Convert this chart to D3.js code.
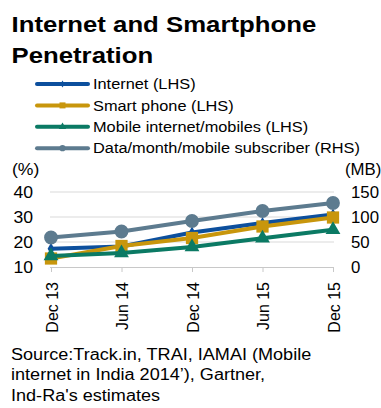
<!DOCTYPE html>
<html>
<head>
<meta charset="utf-8">
<script src="https://cdn.jsdelivr.net/npm/d3@7"></script>
<style>
  html, body { margin: 0; padding: 0; background: #fff; }
  svg { display: block; font-family: "Liberation Sans", Arial, sans-serif; }
</style>
</head>
<body>
<svg id="chart" width="381" height="408"></svg>
<script>
// Periods on the x axis
const periods = ["Dec 13", "Jun 14", "Dec 14", "Jun 15", "Dec 15"];

// Left-hand axis series (%)
const internet = [17.3, 18.2, 23.8, 27.6, 31.0];
const smartphone = [13.4, 18.4, 21.6, 26.2, 29.8];
const mobileInternet = [14.4, 15.6, 18.0, 21.5, 24.9];

// Right-hand axis series (MB)
const dataPerSub = [59, 71, 92, 112, 128];

// Tick labels
const leftTicks = [10, 20, 30, 40];
const rightTicks = [0, 50, 100, 150];

const seriesNames = [
  "Internet (LHS)",
  "Smart phone (LHS)",
  "Mobile internet/mobiles (LHS)",
  "Data/month/mobile subscriber (RHS)"
];

const colors = {
  internet: "#0c4f9d",
  smartphone: "#c8960c",
  mobile: "#0b7a64",
  data: "#5d7b8f"
};

const svg = d3.select("#chart");

// Stretch horizontal text sideways around its anchor point
function widen(sel, k) {
  sel.each(function () {
    const t = d3.select(this);
    const x = +t.attr("x") || 0;
    const y = +t.attr("y") || 0;
    t.attr("x", 0).attr("y", 0)
      .attr("transform", `translate(${x},${y}) scale(${k},1)`);
  });
  return sel;
}

// Title
const title = svg.append("g").selectAll("text")
  .data(["Internet and Smartphone", "Penetration"])
  .join("text")
  .attr("x", 11.5).attr("y", (d, i) => 32 + i * 30.5)
  .attr("font-size", 23).attr("font-weight", "bold").attr("fill", "#000")
  .text(d => d);
widen(title, 1.12);

// Scales
const x = d3.scalePoint().domain(periods).range([51, 333]);
const yL = d3.scaleLinear().domain([10, 40]).range([267, 192]);
const yR = d3.scaleLinear().domain([0, 150]).range([267, 192]);

// Gridlines
svg.append("g").selectAll("line")
  .data(leftTicks.filter(t => t !== 10))
  .join("line")
  .attr("x1", 50).attr("x2", 334)
  .attr("y1", d => yL(d)).attr("y2", d => yL(d))
  .attr("stroke", "#d9d9d9").attr("stroke-width", 1);

// Left axis labels
const leftAxis = svg.append("g")
  .attr("transform", "translate(33,0)")
  .call(d3.axisLeft(yL).tickValues(leftTicks).tickSize(0).tickPadding(0));
leftAxis.select(".domain").remove();
widen(leftAxis.selectAll("text")
  .attr("font-size", 16).attr("fill", "#000")
  .attr("font-family", "Liberation Sans, Arial, sans-serif"), 1.1);

// Right axis labels
const rightAxis = svg.append("g")
  .attr("transform", "translate(351,0)")
  .call(d3.axisRight(yR).tickValues(rightTicks).tickSize(0).tickPadding(0));
rightAxis.select(".domain").remove();
widen(rightAxis.selectAll("text")
  .attr("font-size", 16).attr("fill", "#000")
  .attr("font-family", "Liberation Sans, Arial, sans-serif"), 1.05);

// Unit labels
widen(svg.append("text").attr("x", 12).attr("y", 175)
  .attr("font-size", 16).attr("fill", "#000").text("(%)"), 1.1);
widen(svg.append("text").attr("x", 345).attr("y", 175)
  .attr("font-size", 16).attr("fill", "#000").text("(MB)"), 1.05);

// Bottom axis with category labels
const bottomAxis = svg.append("g")
  .attr("transform", `translate(0,${yL(10)})`)
  .call(d3.axisBottom(x).tickSize(5).tickSizeOuter(0).tickPadding(0));
bottomAxis.select(".domain")
  .attr("d", `M50,0.5H334`)
  .attr("stroke", "#c8c8c8");
bottomAxis.selectAll(".tick line").attr("stroke", "#c8c8c8");
bottomAxis.selectAll(".tick text")
  .attr("font-size", 16).attr("fill", "#000")
  .attr("font-family", "Liberation Sans, Arial, sans-serif")
  .attr("transform", "rotate(-90) scale(1,1.08)")
  .attr("text-anchor", "end")
  .attr("x", -15).attr("y", 0).attr("dy", "0.35em");

// Series definitions
const series = [
  { values: internet, y: yL, color: colors.internet, marker: "diamond" },
  { values: smartphone, y: yL, color: colors.smartphone, marker: "square" },
  { values: mobileInternet, y: yL, color: colors.mobile, marker: "triangle" },
  { values: dataPerSub, y: yR, color: colors.data, marker: "circle" }
];

const symbolType = {
  diamond: d3.symbolDiamond,
  square: d3.symbolSquare,
  triangle: d3.symbolTriangle,
  circle: d3.symbolCircle
};
const markerSize = { diamond: 40, square: 150, triangle: 95, circle: 150 };
const legendMarkerSize = { diamond: 14, square: 36, triangle: 24, circle: 30 };

const plot = svg.append("g");
series.forEach(s => {
  const line = d3.line()
    .x((d, i) => x(periods[i]))
    .y(d => s.y(d));
  plot.append("path")
    .datum(s.values)
    .attr("d", line)
    .attr("fill", "none")
    .attr("stroke", s.color)
    .attr("stroke-width", 4)
    .attr("stroke-linejoin", "round");
  plot.append("g").selectAll("path")
    .data(s.values)
    .join("path")
    .attr("transform", (d, i) => `translate(${x(periods[i])},${s.y(d)})`)
    .attr("d", d3.symbol().type(symbolType[s.marker]).size(markerSize[s.marker]))
    .attr("fill", s.color);
});

// Legend
const legend = svg.append("g");
series.forEach((s, i) => {
  const ly = 84 + i * 21.4;
  legend.append("line")
    .attr("x1", 37).attr("x2", 88)
    .attr("y1", ly).attr("y2", ly)
    .attr("stroke", s.color).attr("stroke-width", 4)
    .attr("stroke-linecap", "round");
  legend.append("path")
    .attr("transform", `translate(62.5,${ly})`)
    .attr("d", d3.symbol().type(symbolType[s.marker]).size(legendMarkerSize[s.marker]))
    .attr("fill", s.color);
  widen(legend.append("text")
    .attr("x", 93).attr("y", ly)
    .attr("font-size", 15).attr("fill", "#000")
    .text(seriesNames[i]), 1.09)
    .attr("dy", "0.35em");
});

// Source note
const sourceLines = [
  "Source:Track.in, TRAI, IAMAI (Mobile",
  "internet in India 2014’), Gartner,",
  "Ind-Ra's estimates"
];
widen(svg.append("g").selectAll("text")
  .data(sourceLines)
  .join("text")
  .attr("x", 11)
  .attr("y", (d, i) => 360 + i * 20.3)
  .attr("font-size", 16).attr("fill", "#000")
  .text(d => d), 1.13);
</script>
</body>
</html>
